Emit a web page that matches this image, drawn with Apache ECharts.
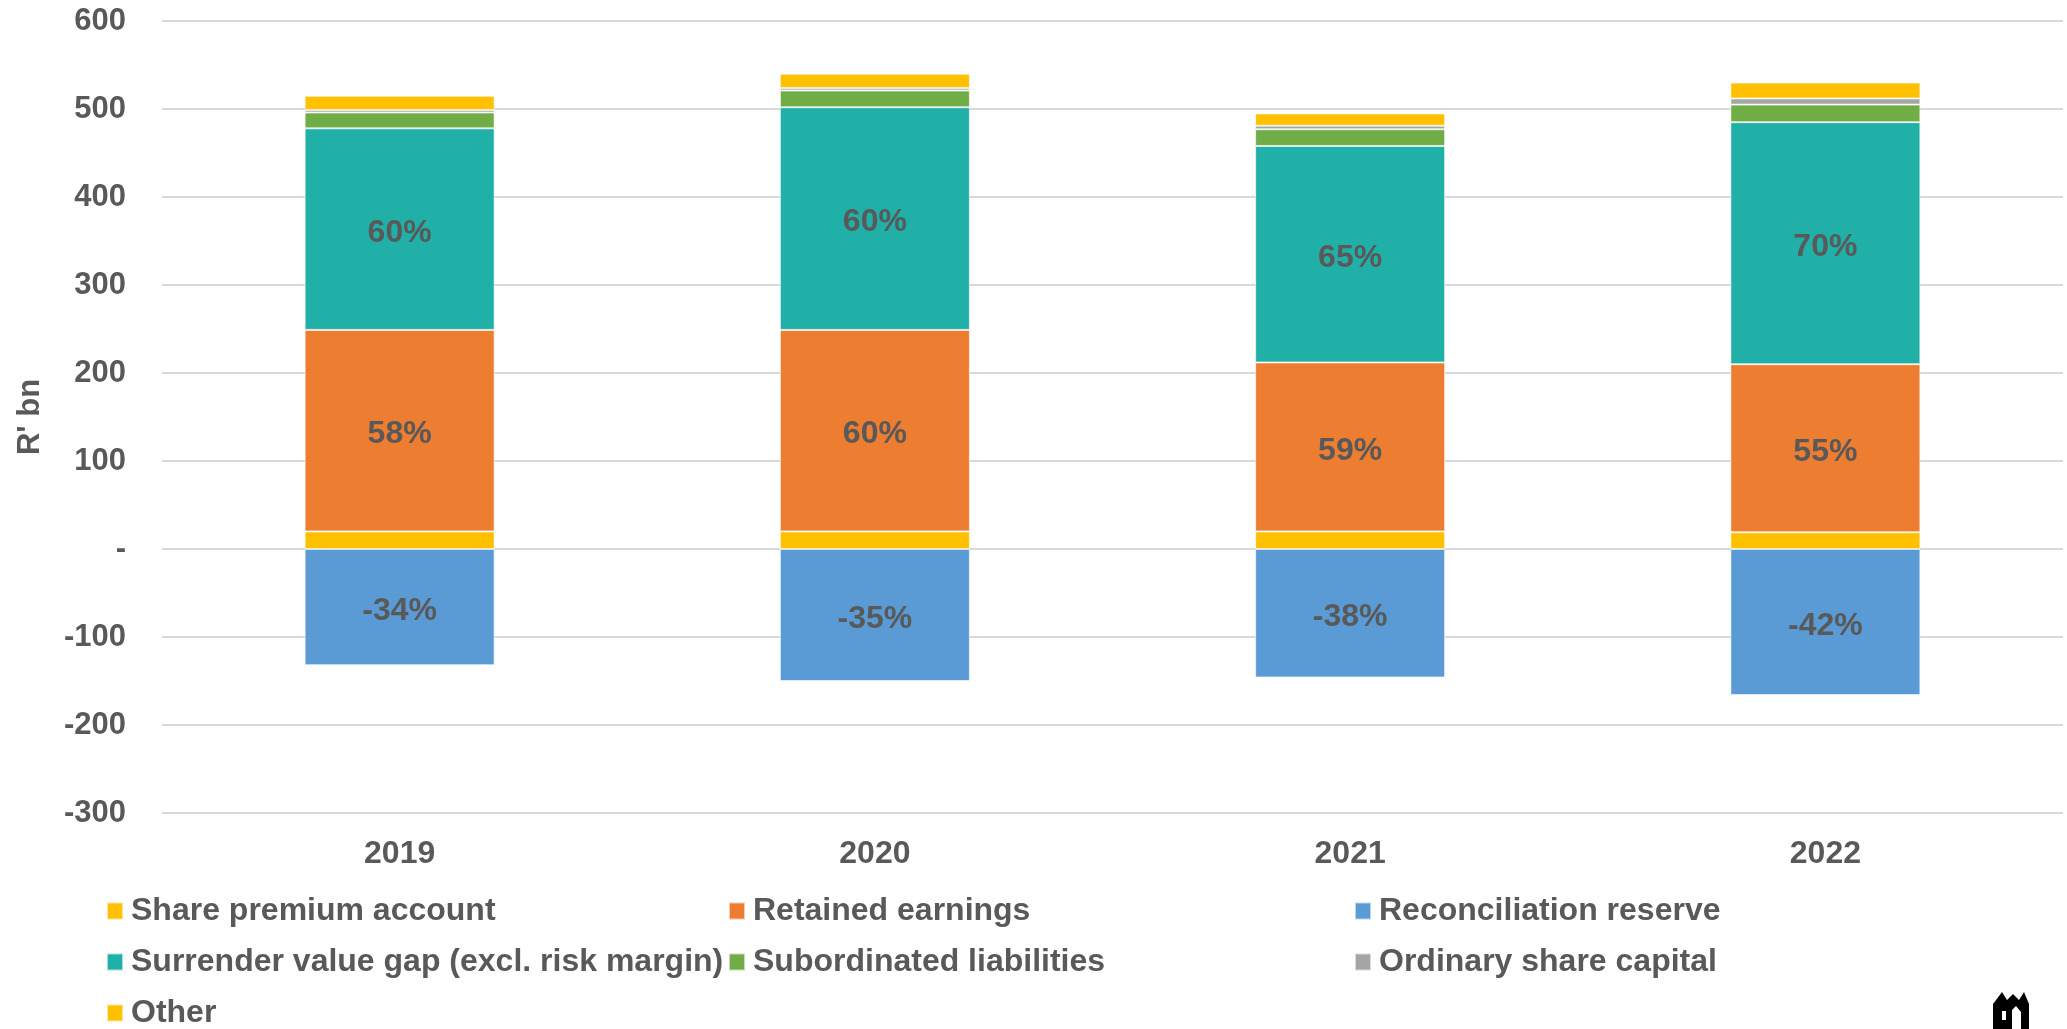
<!DOCTYPE html>
<html>
<head>
<meta charset="utf-8">
<script src="https://cdn.jsdelivr.net/npm/echarts@6/dist/echarts.min.js"></script>
<style>
  html, body { margin: 0; padding: 0; background: #ffffff; }
  #chart { width: 2067px; height: 1029px; }
</style>
</head>
<body>
<div id="chart"></div>
<script>
const categories = ['2019', '2020', '2021', '2022'];

const sharePremium = [20, 20, 20, 19];
const retainedEarnings = [229, 229, 192, 191];
const reconciliationReserve = [-132, -150, -146, -166];
const surrenderGap = [229, 253, 246, 275];
const subordinated = [18, 19, 19, 20];
const ordinaryShare = [3, 3, 4, 7];
const other = [16, 16, 14, 18];

const retainedLabels = ['58%', '60%', '59%', '55%'];
const surrenderLabels = ['60%', '60%', '65%', '70%'];
const reconciliationLabels = ['-34%', '-35%', '-38%', '-42%'];

const yMin = -300, yMax = 600, yStep = 100;

const FONT = '"Liberation Sans", Arial, sans-serif';
const TXT = '#595959';

function mkSeries(name, data, color, labels) {
  const s = {
    name: name,
    type: 'bar',
    stack: 'total',
    data: data,
    barWidth: 190,
    itemStyle: { color: color, borderColor: 'rgba(255,255,255,0.6)', borderWidth: 1 },
    emphasis: { disabled: true },
    label: { show: false }
  };
  if (labels) {
    s.label = {
      show: true,
      position: 'inside',
      offset: [0, 4],
      color: TXT,
      fontFamily: FONT,
      fontWeight: 'bold',
      fontSize: 32,
      formatter: p => labels[p.dataIndex]
    };
  }
  return s;
}

const legendText = { color: TXT, fontFamily: FONT, fontWeight: 'bold', fontSize: 32, lineHeight: 32, padding: [0, 0, 0, 3] };
function mkLegend(left, top, names) {
  return {
    orient: 'vertical',
    left: left,
    top: top,
    icon: 'rect',
    itemWidth: 16,
    itemHeight: 17,
    itemGap: 19,
    padding: 0,
    selectedMode: false,
    textStyle: legendText,
    data: names
  };
}

const chart = echarts.init(document.getElementById('chart'), null, { renderer: 'canvas' });
chart.setOption({
  animation: false,
  backgroundColor: '#ffffff',
  grid: { left: 162, right: 4, top: 21, bottom: 216, containLabel: false },
  legend: [
    mkLegend(106, 895, ['Share premium account', 'Surrender value gap (excl. risk margin)']),
    mkLegend(106, 997, ['Other']),
    mkLegend(728, 895, ['Retained earnings', 'Subordinated liabilities']),
    mkLegend(1354, 895, ['Reconciliation reserve', 'Ordinary share capital'])
  ],
  xAxis: {
    type: 'category',
    data: categories,
    axisLine: { show: false },
    axisTick: { show: false },
    axisLabel: { color: TXT, fontFamily: FONT, fontWeight: 'bold', fontSize: 32, margin: 25 }
  },
  yAxis: {
    type: 'value',
    min: yMin,
    max: yMax,
    interval: yStep,
    name: "R' bn",
    nameLocation: 'middle',
    nameGap: 116,
    nameTextStyle: { color: TXT, fontFamily: FONT, fontWeight: 'bold', fontSize: 31 },
    axisLine: { show: false },
    axisTick: { show: false },
    splitLine: { lineStyle: { color: '#d9d9d9', width: 2 } },
    axisLabel: {
      color: TXT, fontFamily: FONT, fontWeight: 'bold', fontSize: 31, margin: 36,
      formatter: v => (v === 0 ? '-' : String(v))
    }
  },
  series: [
    mkSeries('Share premium account', sharePremium, '#FFC000'),
    mkSeries('Retained earnings', retainedEarnings, '#ED7D31', retainedLabels),
    mkSeries('Reconciliation reserve', reconciliationReserve, '#5B9BD5', reconciliationLabels),
    mkSeries('Surrender value gap (excl. risk margin)', surrenderGap, '#21B0A8', surrenderLabels),
    mkSeries('Subordinated liabilities', subordinated, '#70AD47'),
    mkSeries('Ordinary share capital', ordinaryShare, '#A5A5A5'),
    mkSeries('Other', other, '#FFC000')
  ],
  graphic: [
    {
      type: 'group',
      left: 1993,
      top: 992,
      children: [
        { type: 'polygon', shape: { points: [[0, 37], [0, 12], [9, 0], [14, 8], [20, 2], [26, 8], [31, 0], [36, 12], [36, 37], [28, 37], [28, 20], [23, 14], [19, 18], [19, 37]] }, style: { fill: '#000' } },
        { type: 'rect', shape: { x: 5, y: 16, width: 9, height: 14 }, style: { fill: '#000' } },
        { type: 'rect', shape: { x: 9, y: 19, width: 4, height: 9 }, style: { fill: '#fff' } }
      ]
    }
  ]
});
</script>
</body>
</html>
